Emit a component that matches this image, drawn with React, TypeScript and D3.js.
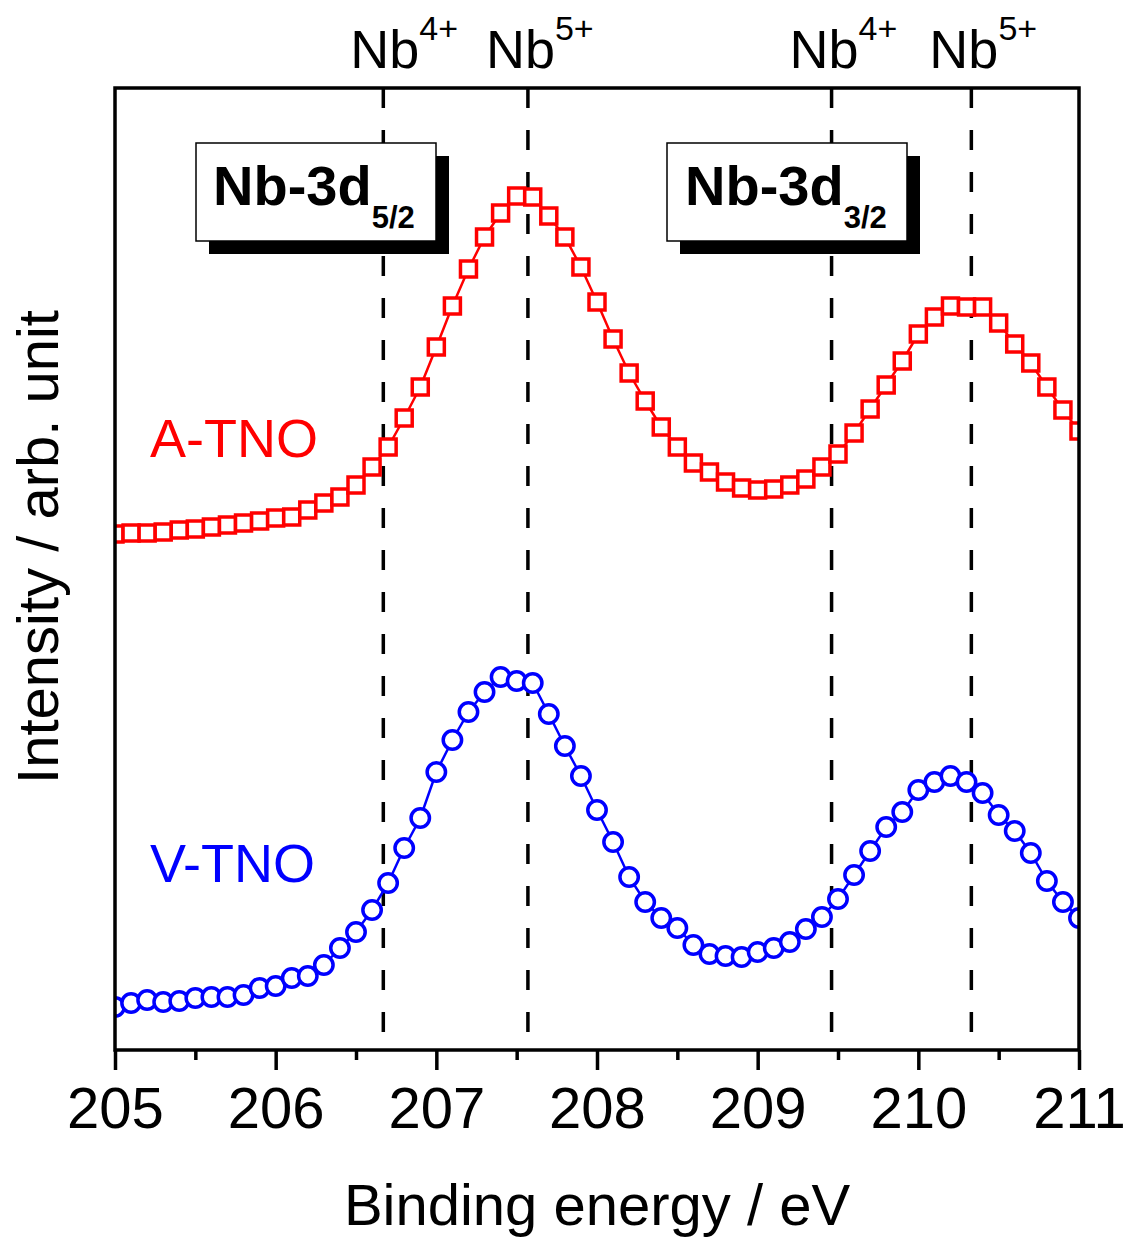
import React, { useRef, useEffect } from "react";
import * as d3 from "d3";

// binding energy grid, 0.1 eV step
const energies: number[] = d3.range(0, 61).map((i) => +(205 + i * 0.1).toFixed(1));

// intensity (arb. unit)
const aTno: number[] = [
  516, 517, 517, 518, 520, 521, 523, 525, 527, 529,
  532, 533, 540, 547, 553, 565, 583, 603, 632, 663,
  703, 744, 781, 813, 837, 854, 853, 834, 813, 783,
  748, 711, 677, 649, 623, 603, 587, 578, 568, 562,
  560, 561, 565, 571, 583, 596, 617, 641, 665, 689,
  716, 733, 744, 743, 743, 727, 706, 687, 663, 640,
  619,
];

const vTno: number[] = [
  43, 47, 50, 48, 49, 52, 53, 53, 55, 62,
  64, 72, 74, 85, 102, 118, 140, 167, 202, 232,
  278, 310, 338, 358, 373, 369, 367, 336, 304, 274,
  240, 208, 173, 148, 132, 122, 105, 96, 94, 93,
  98, 102, 108, 121, 133, 151, 175, 199, 223, 238,
  260, 268, 274, 268, 257, 235, 219, 197, 169, 148,
  132,
];

const majorTicks = [205, 206, 207, 208, 209, 210, 211];
const minorTicks = [205.5, 206.5, 207.5, 208.5, 209.5, 210.5];

// reference lines for Nb oxidation states
const refLines = [206.67, 207.57, 209.46, 210.33];
const refLabels = ["4+", "5+", "4+", "5+"];

const FONT = "'Liberation Sans', Arial, Helvetica, sans-serif";

const App = () => {
  const svgRef = useRef<SVGSVGElement>(null);

  useEffect(() => {
    if (!svgRef.current) return;
    const svg = d3.select(svgRef.current);
    svg.selectAll("*").remove();

    const left = 115, right = 1079, top = 88, bottom = 1050;

    const x = d3.scaleLinear().domain([205, 211]).range([left, right]);
    const y = d3.scaleLinear().domain([0, bottom - top]).range([bottom, top]);

    svg
      .append("defs")
      .append("clipPath")
      .attr("id", "plot-clip")
      .append("rect")
      .attr("x", left)
      .attr("y", top)
      .attr("width", right - left)
      .attr("height", bottom - top);

    // dashed reference lines
    svg
      .append("g")
      .selectAll("line")
      .data(refLines)
      .enter()
      .append("line")
      .attr("x1", (d) => x(d))
      .attr("x2", (d) => x(d))
      .attr("y1", top)
      .attr("y2", bottom)
      .attr("stroke", "#000")
      .attr("stroke-width", 3.5)
      .attr("stroke-dasharray", "20,22");

    const plot = svg.append("g").attr("clip-path", "url(#plot-clip)");

    const line = d3
      .line<number>()
      .x((d, i) => x(energies[i]))
      .y((d) => y(d));

    // A-TNO
    plot
      .append("path")
      .datum(aTno)
      .attr("d", line)
      .attr("fill", "none")
      .attr("stroke", "#ff0000")
      .attr("stroke-width", 2.5);

    plot
      .selectAll(".sq")
      .data(aTno)
      .enter()
      .append("rect")
      .attr("class", "sq")
      .attr("x", (d, i) => x(energies[i]) - 8)
      .attr("y", (d) => y(d) - 8)
      .attr("width", 16)
      .attr("height", 16)
      .attr("fill", "#fff")
      .attr("stroke", "#ff0000")
      .attr("stroke-width", 3.5);

    // V-TNO
    plot
      .append("path")
      .datum(vTno)
      .attr("d", line)
      .attr("fill", "none")
      .attr("stroke", "#0000ff")
      .attr("stroke-width", 2.5);

    plot
      .selectAll(".ci")
      .data(vTno)
      .enter()
      .append("circle")
      .attr("class", "ci")
      .attr("cx", (d, i) => x(energies[i]))
      .attr("cy", (d) => y(d))
      .attr("r", 9.2)
      .attr("fill", "#fff")
      .attr("stroke", "#0000ff")
      .attr("stroke-width", 3.5);

    // frame
    svg
      .append("rect")
      .attr("x", left)
      .attr("y", top)
      .attr("width", right - left)
      .attr("height", bottom - top)
      .attr("fill", "none")
      .attr("stroke", "#000")
      .attr("stroke-width", 3.5);

    // bottom axis
    const xAxis = svg
      .append("g")
      .attr("transform", `translate(0,${bottom})`)
      .call(
        d3
          .axisBottom(x)
          .tickValues(majorTicks)
          .tickSize(20)
          .tickPadding(17)
          .tickFormat(d3.format("d"))
      );
    xAxis.select(".domain").remove();
    xAxis.selectAll("line").attr("stroke-width", 3.5);
    xAxis
      .selectAll("text")
      .style("font-family", FONT)
      .style("font-size", "58px")
      .attr("fill", "#000");

    const minor = svg
      .append("g")
      .attr("transform", `translate(0,${bottom})`)
      .call(d3.axisBottom(x).tickValues(minorTicks).tickSize(10).tickFormat(() => ""));
    minor.select(".domain").remove();
    minor.selectAll("line").attr("stroke-width", 3.5);

    // top labels
    refLines.forEach((d, i) => {
      const t = svg
        .append("text")
        .attr("x", x(d) - (i === 0 ? 33 : 42))
        .attr("y", 68)
        .style("font-family", FONT)
        .style("font-size", "54px");
      t.append("tspan").text("Nb");
      t.append("tspan").attr("dy", -28).style("font-size", "34px").text(refLabels[i]);
    });

    // boxed labels
    const boxes = [
      { x0: 196, w: 240, tx: 213, main: "Nb-3d", sub: "5/2" },
      { x0: 667, w: 240, tx: 685, main: "Nb-3d", sub: "3/2" },
    ];
    boxes.forEach((b) => {
      svg
        .append("rect")
        .attr("x", b.x0 + 13)
        .attr("y", 156)
        .attr("width", b.w)
        .attr("height", 98)
        .attr("fill", "#000");
      svg
        .append("rect")
        .attr("x", b.x0)
        .attr("y", 143)
        .attr("width", b.w)
        .attr("height", 98)
        .attr("fill", "#fff")
        .attr("stroke", "#000")
        .attr("stroke-width", 1.5);
      const t = svg
        .append("text")
        .attr("x", b.tx)
        .attr("y", 205)
        .style("font-family", FONT)
        .style("font-size", "56px")
        .style("font-weight", "bold");
      t.append("tspan").text(b.main);
      t.append("tspan").attr("dy", 23).style("font-size", "31px").text(b.sub);
    });

    // series labels
    svg
      .append("text")
      .attr("x", 150)
      .attr("y", 457)
      .attr("fill", "#ff0000")
      .style("font-family", FONT)
      .style("font-size", "54px")
      .text("A-TNO");
    svg
      .append("text")
      .attr("x", 150)
      .attr("y", 882)
      .attr("fill", "#0000ff")
      .style("font-family", FONT)
      .style("font-size", "54px")
      .text("V-TNO");

    // axis titles
    svg
      .append("text")
      .attr("x", (left + right) / 2)
      .attr("y", 1225)
      .attr("text-anchor", "middle")
      .style("font-family", FONT)
      .style("font-size", "58px")
      .text("Binding energy / eV");
    svg
      .append("text")
      .attr("transform", "translate(58,547) rotate(-90)")
      .attr("text-anchor", "middle")
      .style("font-family", FONT)
      .style("font-size", "58px")
      .text("Intensity / arb. unit");
  }, []);

  return (
    <svg
      ref={svgRef}
      width={1127}
      height={1238}
      style={{ position: "absolute", left: 0, top: 0, background: "#fff" }}
    ></svg>
  );
};

export default App;
